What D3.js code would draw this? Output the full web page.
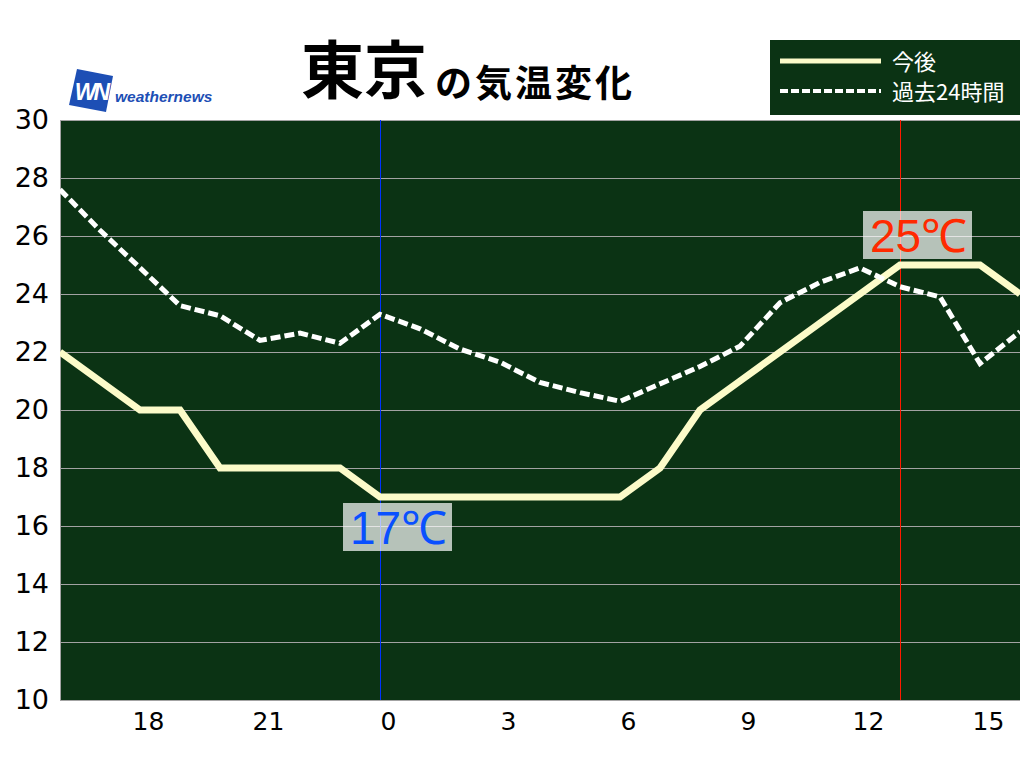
<!DOCTYPE html>
<html>
<head>
<meta charset="utf-8">
<script src="https://cdn.jsdelivr.net/npm/d3@7"></script>
<style>
  body { margin: 0; background: #fff; }
  svg { display: block; }
</style>
</head>
<body>
<svg id="chart"></svg>
<script>
// hours relative to midnight (-8 = 16:00 the day before)
const hours = d3.range(-8, 17);
const forecast = [22, 21, 20, 20, 18, 18, 18, 18, 17, 17, 17, 17, 17, 17, 17, 18, 20, 21, 22, 23, 24, 25, 25, 25, 24];
const past24 = [27.6, 26.2, 24.9, 23.6, 23.25, 22.4, 22.65, 22.3, 23.3, 22.8, 22.1, 21.65, 20.95, 20.6, 20.3, 20.9, 21.5, 22.2, 23.7, 24.4, 24.9, 24.25, 23.9, 21.6, 22.7];
const tickHours = [-6, -3, 0, 3, 6, 9, 12, 15];
const tickLabels = ["18", "21", "0", "3", "6", "9", "12", "15"];
const yTicks = [10, 12, 14, 16, 18, 20, 22, 24, 26, 28, 30];
const minMark = { hour: 0, value: 17, label: "17℃" };
const maxMark = { hour: 13, value: 25, label: "25℃" };
const legendItems = ["今後", "過去24時間"];

const width = 1024, height = 768;
const margin = { top: 120, right: 4, bottom: 68, left: 60 };

const svg = d3.select("#chart")
    .attr("width", width)
    .attr("height", height);

const x = d3.scaleLinear().domain([-8, 16]).range([margin.left, width - margin.right]);
const y = d3.scaleLinear().domain([10, 30]).range([height - margin.bottom, margin.top]);

const plotW = x.range()[1] - x.range()[0];
const plotH = y.range()[0] - y.range()[1];

// plot background
svg.append("rect")
    .attr("x", margin.left).attr("y", margin.top)
    .attr("width", plotW).attr("height", plotH)
    .attr("fill", "#0b3314");

svg.append("clipPath").attr("id", "plotClip")
    .append("rect")
    .attr("x", margin.left).attr("y", margin.top)
    .attr("width", plotW).attr("height", plotH);

// grid
svg.append("g")
    .selectAll("line")
    .data(yTicks)
    .enter().append("line")
    .attr("x1", margin.left).attr("x2", width - margin.right)
    .attr("y1", d => y(d) + 0.5).attr("y2", d => y(d) + 0.5)
    .attr("stroke", "#a3a3a3")
    .attr("stroke-width", 1);

svg.append("line")
    .attr("x1", margin.left + 0.5).attr("x2", margin.left + 0.5)
    .attr("y1", margin.top).attr("y2", y(10))
    .attr("stroke", "#a3a3a3");

// y axis labels
const yAxis = svg.append("g")
    .attr("transform", `translate(${margin.left},0)`)
    .call(d3.axisLeft(y).tickValues(yTicks).tickSize(0).tickPadding(11));
yAxis.select(".domain").remove();
yAxis.selectAll("text")
    .attr("font-family", "'DejaVu Sans', sans-serif")
    .attr("font-size", 27)
    .attr("fill", "#000");

// x axis labels
const xAxis = svg.append("g")
    .attr("transform", `translate(0,${y(10)})`)
    .call(d3.axisBottom(x).tickValues(tickHours)
        .tickFormat((d, i) => tickLabels[i])
        .tickSize(0).tickPadding(12));
xAxis.select(".domain").remove();
xAxis.selectAll("text")
    .attr("dx", 8)
    .attr("font-family", "'DejaVu Sans', sans-serif")
    .attr("font-size", 25)
    .attr("fill", "#000");

// now / max markers
svg.append("line")
    .attr("x1", x(minMark.hour) + 0.5).attr("x2", x(minMark.hour) + 0.5)
    .attr("y1", margin.top).attr("y2", y(10))
    .attr("stroke", "#0033ff").attr("stroke-width", 1);
svg.append("line")
    .attr("x1", x(maxMark.hour) + 0.5).attr("x2", x(maxMark.hour) + 0.5)
    .attr("y1", margin.top).attr("y2", y(10))
    .attr("stroke", "#ff1a00").attr("stroke-width", 1);

// lines
const lineGen = vals => d3.line()
    .x((d, i) => x(hours[i]))
    .y(d => y(d))(vals);

const lines = svg.append("g").attr("clip-path", "url(#plotClip)");

lines.append("path")
    .attr("d", lineGen(forecast))
    .attr("fill", "none")
    .attr("stroke", "#fcfbc9")
    .attr("stroke-width", 7)
    .attr("stroke-linejoin", "miter");

lines.append("path")
    .attr("d", lineGen(past24))
    .attr("fill", "none")
    .attr("stroke", "#ffffff")
    .attr("stroke-width", 5)
    .attr("stroke-dasharray", "10,4");

// min / max labels
function tempLabel(mark, dy, color) {
    const px = x(mark.hour), py = y(mark.value);
    const g = svg.append("g");
    g.append("rect")
        .attr("x", px - 37).attr("y", py + dy)
        .attr("width", 109).attr("height", 48)
        .attr("fill", "#ffffff").attr("fill-opacity", 0.7);
    g.append("text")
        .attr("x", px - 30).attr("y", py + dy + 41)
        .attr("font-family", "'Liberation Sans', Arial, sans-serif")
        .attr("font-size", 46)
        .attr("fill", color)
        .text(mark.label);
}
tempLabel(minMark, 6, "#0a50ff");
tempLabel(maxMark, -54, "#ff2a00");

// title
const title = svg.append("text")
    .attr("x", 301).attr("y", 93)
    .attr("font-family", "'Noto Sans CJK JP', sans-serif")
    .attr("fill", "#000");
title.append("tspan")
    .attr("font-size", 63).attr("font-weight", "bold")
    .text("東京");
title.append("tspan")
    .attr("dx", 8).attr("dy", 4)
    .attr("font-size", 37).attr("font-weight", "bold")
    .attr("letter-spacing", 3)
    .text("の気温変化");

// logo
const logo = svg.append("g");
logo.append("polygon")
    .attr("points", "77,69 113,76 106,112 69,105")
    .attr("fill", "#1d4fb5");
logo.append("text")
    .attr("x", 91).attr("y", 100)
    .attr("text-anchor", "middle")
    .attr("font-family", "'Liberation Sans', Arial, sans-serif")
    .attr("font-weight", "bold").attr("font-style", "italic")
    .attr("font-size", 23).attr("letter-spacing", -3)
    .attr("fill", "#fff")
    .text("WN");
logo.append("text")
    .attr("x", 115).attr("y", 102)
    .attr("font-family", "'Liberation Sans', Arial, sans-serif")
    .attr("font-weight", "bold").attr("font-style", "italic")
    .attr("font-size", 15.5)
    .attr("fill", "#1d4fb5")
    .text("weathernews");

// legend
const legend = svg.append("g");
legend.append("rect")
    .attr("x", 770).attr("y", 40)
    .attr("width", 250).attr("height", 75)
    .attr("fill", "#0b3314");
legend.selectAll("line")
    .data(legendItems)
    .enter().append("line")
    .attr("x1", 780).attr("x2", 881)
    .attr("y1", (d, i) => 61 + i * 30).attr("y2", (d, i) => 61 + i * 30)
    .attr("stroke", (d, i) => i === 0 ? "#fcfbc9" : "#ffffff")
    .attr("stroke-width", (d, i) => i === 0 ? 5 : 4)
    .attr("stroke-dasharray", (d, i) => i === 0 ? null : "8,3");
legend.selectAll("text")
    .data(legendItems)
    .enter().append("text")
    .attr("x", 892)
    .attr("y", (d, i) => 62 + i * 30)
    .attr("dy", "0.35em")
    .attr("font-family", "'Noto Sans CJK JP', sans-serif")
    .attr("font-size", 22)
    .attr("fill", "#fff")
    .text(d => d);
</script>
</body>
</html>
